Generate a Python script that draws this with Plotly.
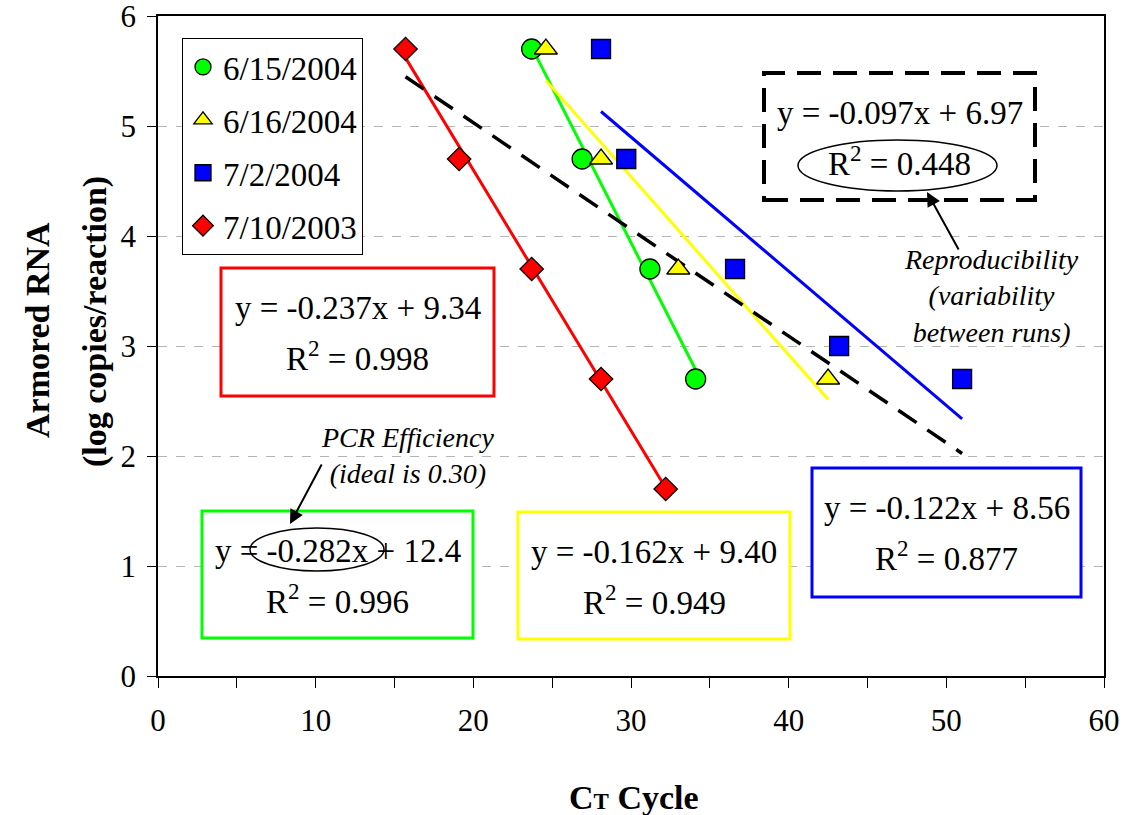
import plotly.graph_objects as go

# ---- data: CT cycle vs. log copies of Armored RNA per reaction ----
runs = ["6/15/2004", "6/16/2004", "7/2/2004", "7/10/2003"]

ct_0615 = [23.7, 26.9, 31.2, 34.1]
log_0615 = [5.7, 4.7, 3.7, 2.7]

ct_0616 = [24.6, 28.1, 33.0, 42.5]
log_0616 = [5.7, 4.7, 3.7, 2.7]

ct_0702 = [28.1, 29.7, 36.6, 43.2, 51.0]
log_0702 = [5.7, 4.7, 3.7, 3.0, 2.7]

ct_0710 = [15.7, 19.1, 23.7, 28.1, 32.2]
log_0710 = [5.7, 4.7, 3.7, 2.7, 1.7]

# linear trendlines (slope, intercept, R^2) for each run and for all runs pooled
slopes = [-0.282, -0.162, -0.122, -0.237]
intercepts = [12.4, 9.40, 8.56, 9.34]
r_squared = [0.996, 0.949, 0.877, 0.998]
pooled_slope = -0.097
pooled_intercept = 6.97
pooled_r2 = 0.448

x_ticks = [0, 10, 20, 30, 40, 50, 60]
y_ticks = [0, 1, 2, 3, 4, 5, 6]

# ---- styling ----
W, H = 1133, 815
L, R, T, B = 158, 29, 16, 139
FONT = "Liberation Serif, Times New Roman, serif"
colors = ["#00FF00", "#FFFF00", "#0000FF", "#FF0000"]
symbols = ["circle", "triangle-up", "square", "diamond"]
sizes = [20, 20, 19, 18]


def fx(p):
    """pixel column -> paper x"""
    return (p - L) / (W - L - R)


def fy(p):
    """pixel row -> paper y"""
    return (H - B - p) / (H - T - B)


def label(x, y, text, size, **kw):
    d = dict(xref="paper", yref="paper", x=fx(x), y=fy(y), text=text, showarrow=False,
             xanchor="center", yanchor="middle", align="center",
             font=dict(family=FONT, size=size, color="black"))
    d.update(kw)
    return d


def arrow(head, tail):
    return dict(xref="paper", yref="paper", x=fx(head[0]), y=fy(head[1]), text=" ",
                showarrow=True, ax=tail[0] - head[0], ay=tail[1] - head[1],
                arrowhead=2, arrowsize=1.4, arrowwidth=2, arrowcolor="black", standoff=0,
                font=dict(size=2))


xs = [ct_0615, ct_0616, ct_0702, ct_0710]
ys = [log_0615, log_0616, log_0702, log_0710]

fig = go.Figure()

# trendlines across each run's CT range
for x, m, b, c in zip(xs, slopes, intercepts, colors):
    x0, x1 = min(x), max(x)
    fig.add_trace(go.Scatter(x=[x0, x1], y=[m * x0 + b, m * x1 + b], mode="lines",
                             line=dict(color=c, width=3), showlegend=False,
                             hoverinfo="skip"))

all_x = [v for x in xs for v in x]
px0, px1 = min(all_x), max(all_x)
fig.add_trace(go.Scatter(x=[px0, px1],
                         y=[pooled_slope * px0 + pooled_intercept,
                            pooled_slope * px1 + pooled_intercept],
                         mode="lines", line=dict(color="black", width=3.5, dash="22px,13px"),
                         showlegend=False, hoverinfo="skip"))

for i, (name, x, y) in enumerate(zip(runs, xs, ys)):
    fig.add_trace(go.Scatter(x=x, y=y, mode="markers", name=name, legendgroup=name,
                             marker=dict(symbol=symbols[i], size=sizes[i], color=colors[i],
                                         line=dict(color="black", width=1.3))))

# equation boxes: (left, top, right, bottom) in pixels
boxes = [(202, 511, 473, 638), (518, 512, 790, 639), (812, 468, 1081, 597), (221, 268, 494, 396)]
shapes = []
annotations = []


def equation_box(box, color, m, b, r2, dash=None, width=3):
    x0, y0, x1, y1 = box
    line = dict(color=color, width=width)
    if dash:
        line["dash"] = dash
    shapes.append(dict(type="rect", xref="paper", yref="paper", x0=fx(x0), x1=fx(x1),
                       y0=fy(y1), y1=fy(y0), line=line, fillcolor="white", layer="above"))
    cx = (x0 + x1) / 2
    annotations.append(label(cx, y0 + 40, f"y = {m:.3f}x + {b:#.3g}", 33))
    annotations.append(label(cx, y0 + 88, f"R<sup>2</sup> = {r2:.3f}", 33))


for box, c, m, b, r2 in zip(boxes, colors, slopes, intercepts, r_squared):
    equation_box(box, c, m, b, r2)

# pooled fit box (dashed border)
equation_box((764, 73, 1035, 200), "black", pooled_slope, pooled_intercept, pooled_r2,
             dash="24px,12px", width=4)

# ellipses highlighting R^2 (pooled) and the slope (6/15/2004)
shapes.append(dict(type="circle", xref="paper", yref="paper", x0=fx(798), x1=fx(997),
                   y0=fy(191), y1=fy(140), line=dict(color="black", width=1.5), layer="above"))
shapes.append(dict(type="circle", xref="paper", yref="paper", x0=fx(250), x1=fx(384),
                   y0=fy(571), y1=fy(528), line=dict(color="black", width=1.5), layer="above"))

# callouts
annotations.append(label(407, 455, "<i>PCR Efficiency<br>(ideal is 0.30)</i>", 28))
annotations.append(arrow((290, 524), (323, 462)))
annotations.append(label(991, 296, "<i>Reproducibility<br>(variability<br>between runs)</i>", 28))
annotations.append(arrow((927, 192), (960, 252)))

# axis titles
annotations.append(label(634, 797, "<b>C<span style='font-size:23px'>T</span> Cycle</b>", 34))
annotations.append(label(38, 330, "<b>Armored RNA</b>", 34, textangle=-90))
annotations.append(label(95, 322, "<b>(log copies/reaction)</b>", 34, textangle=-90))

fig.update_layout(
    width=W, height=H,
    margin=dict(l=L, r=R, t=T, b=B, autoexpand=False),
    paper_bgcolor="white", plot_bgcolor="white",
    font=dict(family=FONT, size=30, color="black"),
    showlegend=True,
    legend=dict(x=fx(182), y=fy(38), xanchor="left", yanchor="top",
                bgcolor="white", bordercolor="black", borderwidth=1,
                font=dict(family=FONT, size=33), tracegroupgap=7),
    shapes=shapes,
    annotations=annotations,
)
fig.update_xaxes(range=[0, 60], tickvals=x_ticks, ticks="outside", ticklen=10,
                 tickwidth=1, tickcolor="black", showline=True, linecolor="black",
                 linewidth=1.5, mirror=True, showgrid=False, zeroline=False,
                 ticklabelstandoff=6, ticklabeloverflow="allow", automargin=False,
                 tickfont=dict(family=FONT, size=31),
                 minor=dict(dtick=5, ticks="outside", ticklen=10, tickcolor="black", showgrid=False))
fig.update_yaxes(range=[0, 6], tickvals=y_ticks, ticks="outside", ticklen=9,
                 tickwidth=1, tickcolor="black", showline=True, linecolor="black",
                 linewidth=1.5, mirror=True, showgrid=True, gridcolor="#b5b5b5",
                 griddash="dash", gridwidth=1, zeroline=False, ticklabelstandoff=5,
                 ticklabeloverflow="allow", automargin=False,
                 tickfont=dict(family=FONT, size=31))

fig.write_html("out.html")
